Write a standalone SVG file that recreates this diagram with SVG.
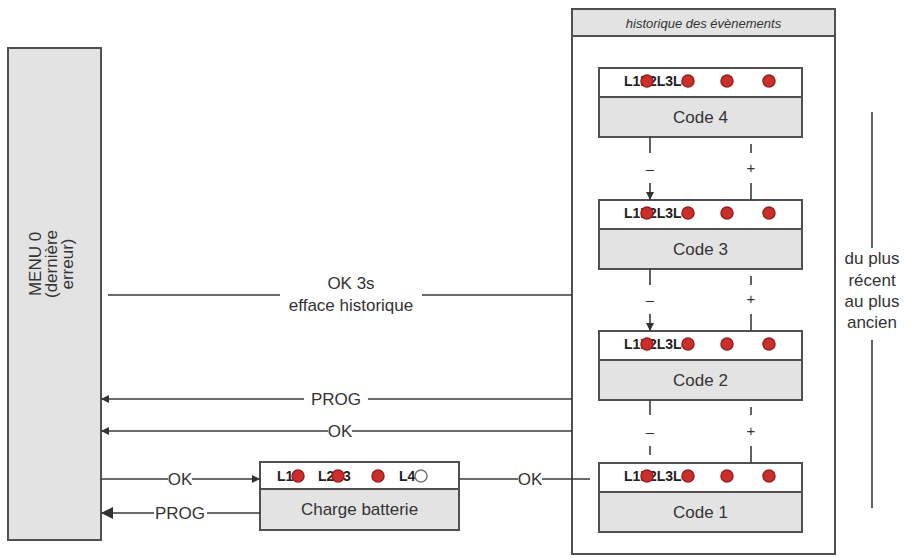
<svg xmlns="http://www.w3.org/2000/svg" width="909" height="557" viewBox="0 0 909 557">
<defs>
<style>
.box{stroke:#505050;stroke-width:2}
.g{fill:#e3e3e3}
.w{fill:#ffffff}
.ln{stroke:#3a3a3a;stroke-width:1.6;fill:none}
.t{font-family:"Liberation Sans",Arial,sans-serif;font-size:17px;fill:#333}
.tm{text-anchor:middle}
.hd{font-family:"Liberation Sans",Arial,sans-serif;font-size:13px;font-style:italic;fill:#333;text-anchor:middle}
.lab{font-family:"Liberation Sans",Arial,sans-serif;font-size:14px;font-weight:bold;fill:#222}
.sm{font-family:"Liberation Sans",Arial,sans-serif;font-size:15px;fill:#333;text-anchor:middle}
.dot{fill:#c9302c;stroke:#9a1f1f;stroke-width:1.5}
.off{fill:#ffffff;stroke:#777;stroke-width:1.5}
</style>
<marker id="ah" viewBox="0 0 10 10" refX="10" refY="5" markerWidth="8" markerHeight="8" markerUnits="userSpaceOnUse" orient="auto"><path d="M0,0 L10,5 L0,10 z" fill="#333"/></marker>
<marker id="ahb" viewBox="0 0 10 10" refX="10" refY="5" markerWidth="12" markerHeight="12" markerUnits="userSpaceOnUse" orient="auto"><path d="M0,0 L10,5 L0,10 z" fill="#333"/></marker>
</defs>
<rect width="909" height="557" fill="#ffffff"/>

<g id="menu0">
<rect x="8" y="48" width="93" height="492" class="g box"/>
<text class="t tm" transform="rotate(-90)"><tspan x="-264" y="41">MENU 0</tspan><tspan x="-264" y="57">(dernière</tspan><tspan x="-264" y="73">erreur)</tspan></text>
</g>

<g id="historique">
<rect x="572" y="9" width="263" height="545" class="w box"/>
<rect x="572" y="9" width="263" height="27" class="g box"/>
<text x="703.5" y="28" class="hd">historique des évènements</text>
</g>

<g id="code4">
<rect x="599" y="68" width="203" height="69" class="g box"/>
<rect x="599" y="68" width="203" height="29" class="w box"/>
<text x="624" y="86" class="lab">L1L2L3L4</text>
<circle cx="647" cy="81" r="6" class="dot"/><circle cx="688" cy="81" r="6" class="dot"/><circle cx="727" cy="81" r="6" class="dot"/><circle cx="769" cy="81" r="6" class="dot"/>
<text x="700.5" y="123" class="t tm">Code 4</text>
</g>

<g id="code3">
<rect x="599" y="200" width="203" height="69" class="g box"/>
<rect x="599" y="200" width="203" height="29" class="w box"/>
<text x="624" y="218" class="lab">L1L2L3L4</text>
<circle cx="647" cy="213" r="6" class="dot"/><circle cx="688" cy="213" r="6" class="dot"/><circle cx="727" cy="213" r="6" class="dot"/><circle cx="769" cy="213" r="6" class="dot"/>
<text x="700.5" y="255" class="t tm">Code 3</text>
</g>

<g id="code2">
<rect x="599" y="331" width="203" height="69" class="g box"/>
<rect x="599" y="331" width="203" height="29" class="w box"/>
<text x="624" y="349" class="lab">L1L2L3L4</text>
<circle cx="647" cy="344" r="6" class="dot"/><circle cx="688" cy="344" r="6" class="dot"/><circle cx="727" cy="344" r="6" class="dot"/><circle cx="769" cy="344" r="6" class="dot"/>
<text x="700.5" y="386" class="t tm">Code 2</text>
</g>

<g id="code1">
<rect x="599" y="463" width="203" height="69" class="g box"/>
<rect x="599" y="463" width="203" height="29" class="w box"/>
<text x="624" y="481" class="lab">L1L2L3L4</text>
<circle cx="647" cy="476" r="6" class="dot"/><circle cx="688" cy="476" r="6" class="dot"/><circle cx="727" cy="476" r="6" class="dot"/><circle cx="769" cy="476" r="6" class="dot"/>
<text x="700.5" y="518" class="t tm">Code 1</text>
</g>

<g id="charge">
<rect x="260" y="462" width="199" height="68" class="g box"/>
<rect x="260" y="462" width="199" height="27" class="w box"/>
<text x="277" y="481" class="lab">L1</text>
<text x="318" y="481" class="lab">L2L3</text>
<text x="399" y="481" class="lab">L4</text>
<circle cx="298" cy="476" r="6" class="dot"/><circle cx="338" cy="476" r="6" class="dot"/><circle cx="378" cy="476" r="6" class="dot"/><circle cx="421" cy="476" r="6" class="off"/>
<text x="359.5" y="515" class="t tm">Charge batterie</text>
</g>

<g id="ordre">
<line x1="872" y1="112" x2="872" y2="248" class="ln"/>
<line x1="872" y1="340" x2="872" y2="508" class="ln"/>
<text class="t tm"><tspan x="872" y="264">du plus</tspan><tspan x="872" y="286">récent</tspan><tspan x="872" y="307">au plus</tspan><tspan x="872" y="328">ancien</tspan></text>
</g>

<g id="connectors">
<line x1="108" y1="295" x2="280" y2="295" class="ln"/>
<line x1="422" y1="295" x2="572" y2="295" class="ln"/>
<text x="351" y="289" class="t tm">OK 3s</text>
<text x="351" y="311" class="t tm">efface historique</text>

<line x1="572" y1="399" x2="368" y2="399" class="ln"/>
<line x1="304" y1="399" x2="101" y2="399" class="ln" marker-end="url(#ah)"/>
<text x="336" y="405" class="t tm">PROG</text>

<line x1="572" y1="431" x2="352" y2="431" class="ln"/>
<line x1="328" y1="431" x2="101" y2="431" class="ln" marker-end="url(#ah)"/>
<text x="340" y="437" class="t tm">OK</text>

<line x1="101" y1="479" x2="168" y2="479" class="ln"/>
<line x1="192" y1="479" x2="260" y2="479" class="ln" marker-end="url(#ah)"/>
<text x="180" y="485" class="t tm">OK</text>

<line x1="260" y1="513" x2="207" y2="513" class="ln"/>
<line x1="154" y1="513" x2="101" y2="513" class="ln" marker-end="url(#ahb)"/>
<text x="180" y="519" class="t tm">PROG</text>

<line x1="459" y1="479" x2="518" y2="479" class="ln"/>
<line x1="542" y1="479" x2="590" y2="479" class="ln"/>
<text x="530" y="485" class="t tm">OK</text>

<line x1="650" y1="137" x2="650" y2="153" class="ln"/>
<text x="650" y="174" class="sm">–</text>
<line x1="650" y1="183" x2="650" y2="200" class="ln" marker-end="url(#ah)"/>
<line x1="751" y1="144" x2="751" y2="153" class="ln"/>
<text x="751" y="173" class="sm">+</text>
<line x1="751" y1="183" x2="751" y2="200" class="ln"/>

<line x1="650" y1="269" x2="650" y2="285" class="ln"/>
<text x="650" y="305" class="sm">–</text>
<line x1="650" y1="314" x2="650" y2="331" class="ln" marker-end="url(#ah)"/>
<line x1="751" y1="276" x2="751" y2="285" class="ln"/>
<text x="751" y="304" class="sm">+</text>
<line x1="751" y1="314" x2="751" y2="331" class="ln"/>

<line x1="650" y1="400" x2="650" y2="415" class="ln"/>
<text x="650" y="437" class="sm">–</text>
<line x1="650" y1="446" x2="650" y2="455" class="ln"/>
<line x1="751" y1="407" x2="751" y2="415" class="ln"/>
<text x="751" y="436" class="sm">+</text>
<line x1="751" y1="446" x2="751" y2="463" class="ln"/>
</g>
</svg>
